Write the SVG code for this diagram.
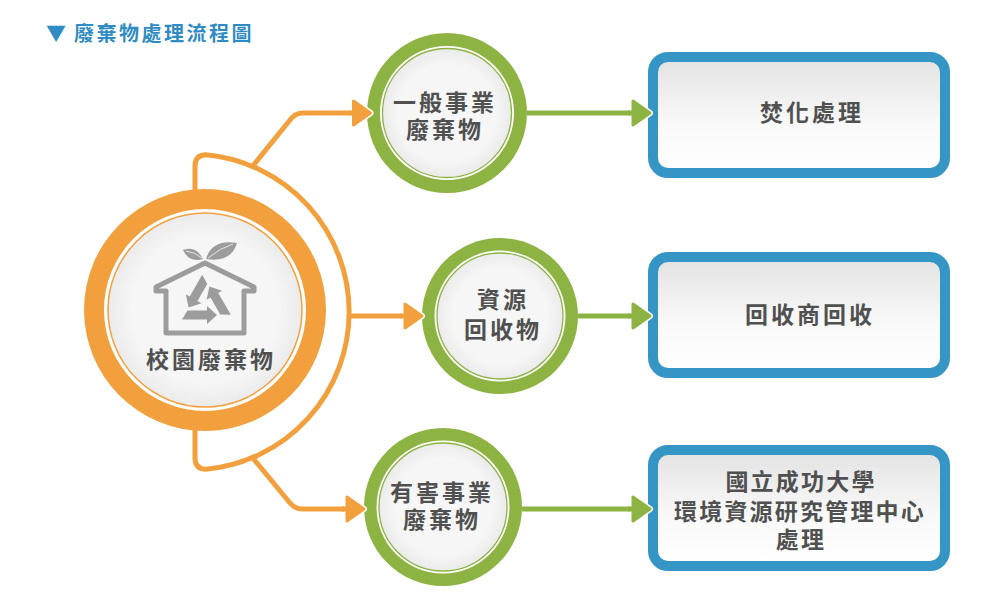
<svg xmlns="http://www.w3.org/2000/svg" width="982" height="610" viewBox="0 0 982 610">
<defs>
<style>
.t{font-family:"Noto Sans CJK TC","Noto Sans CJK SC",sans-serif;font-weight:700;font-size:23px;fill:#505050;text-anchor:middle;letter-spacing:3px}
.title{font-family:"Noto Sans CJK TC","Noto Sans CJK SC",sans-serif;font-weight:700;font-size:20px;fill:#2f8bc3;letter-spacing:2.5px}
.box{fill:url(#boxg);stroke:#3596c6;stroke-width:10}
.ol{fill:none;stroke:#f2a03d;stroke-width:5;stroke-linejoin:round}
.gl{fill:none;stroke:#8db443;stroke-width:5}
.oring{fill:#f2a03d}
.gring{fill:#8db443}
.wh{fill:#ffffff}
.oin{fill:url(#cg);stroke:#f2a03d;stroke-width:1.5}
.gin{fill:url(#cg);stroke:#8db443;stroke-width:1.3}
.ico{fill:#9c9c9c}
</style>
<linearGradient id="boxg" x1="0" y1="0" x2="0" y2="1">
<stop offset="0" stop-color="#e2e2e2"/><stop offset="0.55" stop-color="#f8f8f8"/><stop offset="1" stop-color="#ffffff"/>
</linearGradient>
<radialGradient id="cg" cx="0.5" cy="0.5" r="0.5">
<stop offset="0.75" stop-color="#f6f6f6"/><stop offset="1" stop-color="#ebebeb"/>
</radialGradient>
<marker id="ao" markerUnits="userSpaceOnUse" markerWidth="28" markerHeight="36" viewBox="0 0 28 36" refX="4" refY="18" orient="auto">
<path d="M5,6 L22,18 L5,30 Z" fill="#fff" stroke="#fff" stroke-width="6" stroke-linejoin="round"/>
<path d="M5,6 L22,18 L5,30 Z" fill="#f2a03d" stroke="#f2a03d" stroke-width="3" stroke-linejoin="round"/>
<rect x="0" y="15.5" width="6" height="5" fill="#f2a03d"/>
</marker>
<marker id="ag" markerUnits="userSpaceOnUse" markerWidth="28" markerHeight="36" viewBox="0 0 28 36" refX="4" refY="18" orient="auto">
<path d="M5,6 L22,18 L5,30 Z" fill="#fff" stroke="#fff" stroke-width="6" stroke-linejoin="round"/>
<path d="M5,6 L22,18 L5,30 Z" fill="#8db443" stroke="#8db443" stroke-width="3" stroke-linejoin="round"/>
<rect x="0" y="15.5" width="6" height="5" fill="#8db443"/>
</marker>
<polygon id="rarrow" points="-23,16.5 -17.5,7.5 2,7.5 2,3 12,12 2,21 2,16.5"/>
</defs>
<rect width="982" height="610" fill="#ffffff"/>

<text class="title" y="41"><tspan x="46">▼</tspan><tspan x="74">廢棄物處理流程圖</tspan></text>

<g id="n-campus">
<circle class="oring" cx="205" cy="310" r="121"/>
<circle class="wh" cx="205" cy="310" r="101"/>
<circle class="oin" cx="205" cy="310" r="97"/>
<g id="icon">
<path d="M205,263 L156,287 V291 H166 V333 H244 V291 H254 V287 Z" fill="none" stroke="#9c9c9c" stroke-width="5" stroke-linejoin="round"/>
<path class="ico" d="M203,259 Q196,245 183,250 Q189,263 203,259 Z"/>
<path class="ico" d="M206,259 Q212,239 237,243 Q231,263 206,259 Z"/>
<path d="M186,251 Q195,252 202,258 M208,258 Q220,248 233,244" fill="none" stroke="#e4e4e4" stroke-width="1"/>
<g transform="translate(205,303)" class="ico">
<use href="#rarrow"/>
<use href="#rarrow" transform="rotate(120)"/>
<use href="#rarrow" transform="rotate(240)"/>
</g>
</g>
<text class="t" x="211" y="368">校園廢棄物</text>
</g>

<g id="n-general">
<circle class="gring" cx="447" cy="113" r="80"/>
<circle class="wh" cx="447" cy="113" r="67"/>
<circle class="gin" cx="447" cy="113" r="64.5"/>
<text class="t"><tspan x="445" y="111">一般事業</tspan><tspan x="445" y="138">廢棄物</tspan></text>
</g>

<g id="n-recycle">
<circle class="gring" cx="500" cy="316" r="78"/>
<circle class="wh" cx="500" cy="316" r="65.5"/>
<circle class="gin" cx="500" cy="316" r="63"/>
<text class="t"><tspan x="503" y="308">資源</tspan><tspan x="503" y="338">回收物</tspan></text>
</g>

<g id="n-hazard">
<circle class="gring" cx="443" cy="507" r="79"/>
<circle class="wh" cx="443" cy="507" r="66.5"/>
<circle class="gin" cx="443" cy="507" r="64"/>
<text class="t"><tspan x="442" y="501">有害事業</tspan><tspan x="442" y="528">廢棄物</tspan></text>
</g>

<g id="n-incinerate">
<rect class="box" x="653" y="57" width="292" height="116" rx="15"/>
<text class="t" x="812" y="121">焚化處理</text>
</g>

<g id="n-vendor">
<rect class="box" x="653" y="257" width="292" height="116" rx="15"/>
<text class="t" x="810" y="323">回收商回收</text>
</g>

<g id="n-ncku">
<rect class="box" x="653" y="450" width="292" height="116" rx="15"/>
<text class="t" style="letter-spacing:2.2px"><tspan x="801" y="490">國立成功大學</tspan><tspan x="800" y="520">環境資源研究管理中心</tspan><tspan x="801" y="548">處理</tspan></text>
</g>

<g id="connectors">
<path class="ol" d="M195,192 V166 Q195,155 206,154.7 A158,158 0 0 1 206,469.3 Q195,469 195,458 V430"/>
<path class="ol" d="M252,167 L290,120 Q295,113 303,113 H352.5" marker-end="url(#ao)"/>
<path class="ol" d="M348,316 H404" marker-end="url(#ao)"/>
<path class="ol" d="M252,457 L290,503 Q295,509 303,509 H346" marker-end="url(#ao)"/>
<path class="gl" d="M527,113 H632" marker-end="url(#ag)"/>
<path class="gl" d="M578,316 H632" marker-end="url(#ag)"/>
<path class="gl" d="M522,509 H632" marker-end="url(#ag)"/>
</g>
</svg>
